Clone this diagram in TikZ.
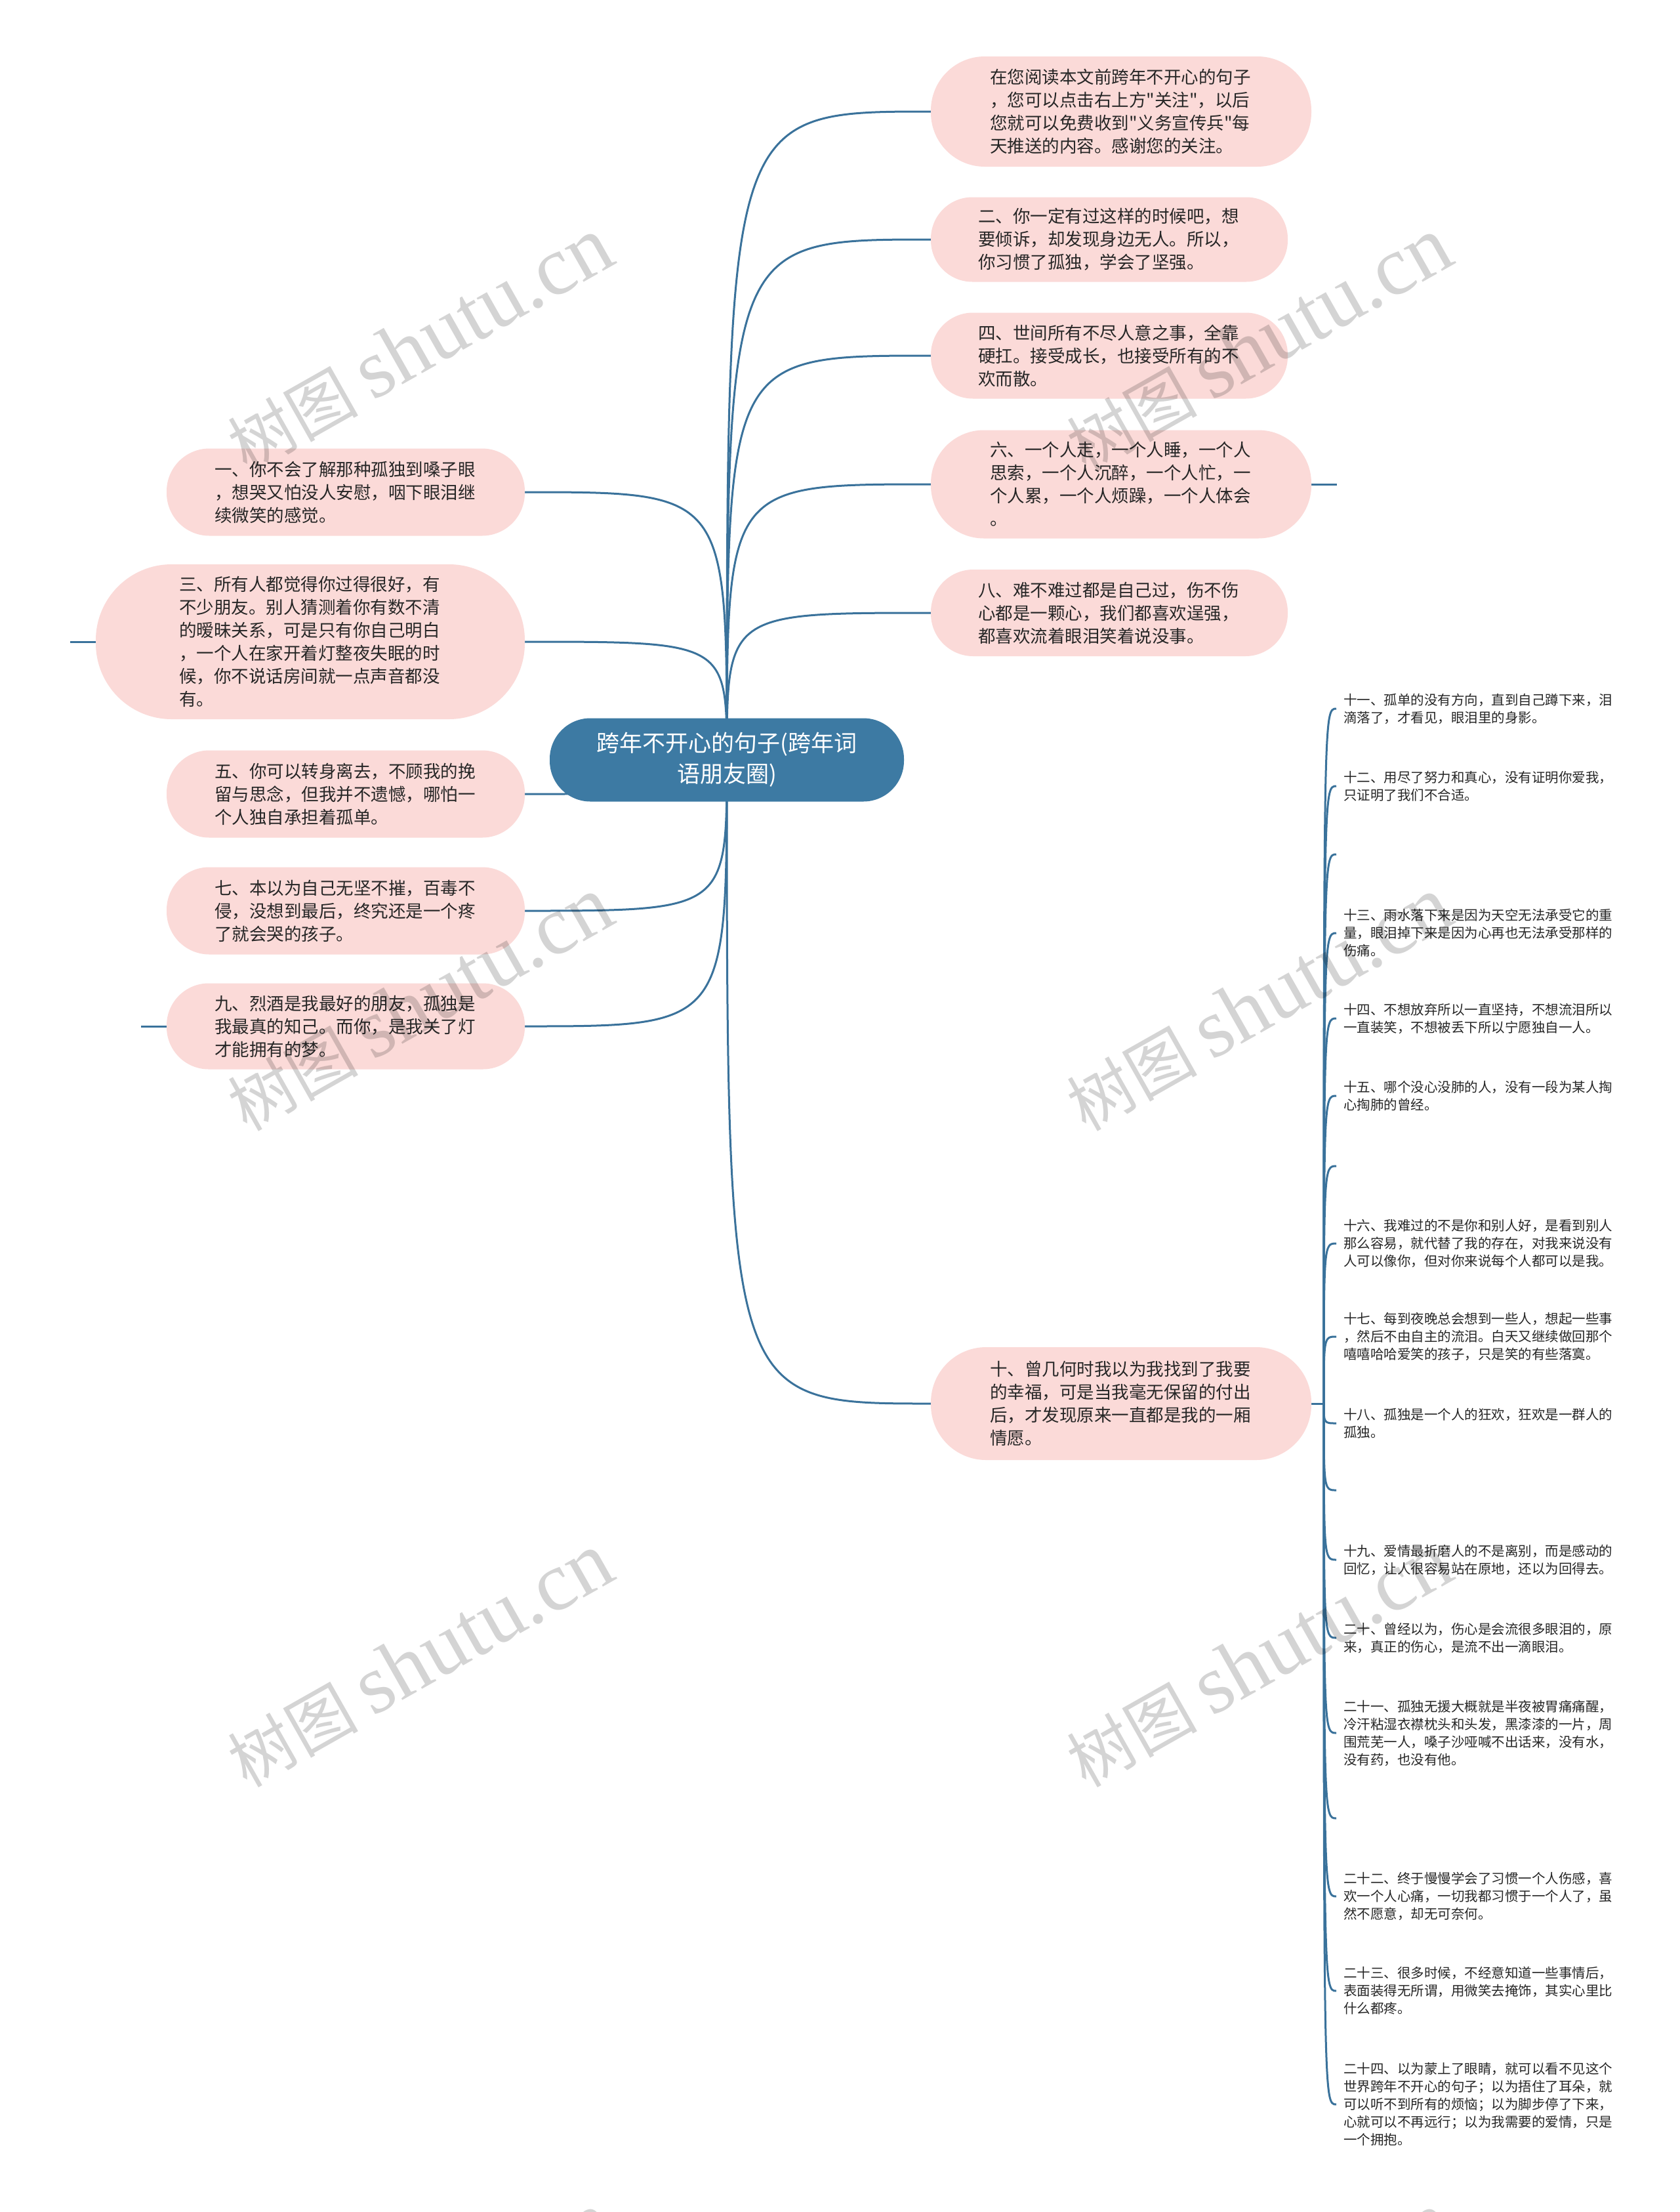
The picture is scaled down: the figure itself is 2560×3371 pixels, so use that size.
\documentclass[tikz,border=0pt]{standalone}
\usepackage{fontspec}
\setmainfont{Noto Sans CJK SC}[Ligatures=TeXOff]
\newfontfamily\wmlat{Liberation Serif}
\definecolor{pinkc}{HTML}{FBDAD8}
\definecolor{blu}{HTML}{3D7AA3}
\definecolor{edgec}{HTML}{3A729B}
\definecolor{txt}{HTML}{262626}
\pgfdeclarelayer{bg}
\pgfdeclarelayer{edges}
\pgfdeclarelayer{wm}
\pgfsetlayers{bg,edges,main,wm}
\begin{document}
\begin{tikzpicture}[x=1pt,y=-1pt,
  edge/.style={draw=edgec,line width=3pt},
  pk/.style 2 args={fill=pinkc,draw=none,minimum width=#1pt,minimum height=#2pt,
    rounded corners=#2pt*0.49,text width=400pt,align=left,inner sep=0pt,
    font=\fontsize{26.5}{35}\selectfont,text=txt},
  rootbox/.style={fill=blu,draw=none,text=white,align=center,minimum width=540pt,
    minimum height=127pt,rounded corners=62pt,inner sep=0pt,font=\fontsize{35}{47}\selectfont},
  item/.style={anchor=west,inner xsep=11pt,inner ysep=0pt,text width=430pt,align=left,
    font=\fontsize{20.5}{27}\selectfont,text=txt},
  wmark/.style={text=black,opacity=0.17,rotate=29.5,inner sep=0pt,font=\fontsize{99}{99}\selectfont}]
\useasboundingbox (0,0) rectangle (2560,3371);
\begin{pgfonlayer}{bg}
\fill[white] (0,0) rectangle (2560,3371);
\end{pgfonlayer}

% root
\node[rootbox] (root) at (1108,1158) {跨年不开心的句子(跨年词\\语朋友圈)};
\coordinate (rc) at (1108,1158);

% right main nodes
\node[pk={580}{168}] (R1) at (1709,170) {在您阅读本文前跨年不开心的句子\\，您可以点击右上方"关注"，以后\\您就可以免费收到"义务宣传兵"每\\天推送的内容。感谢您的关注。};
\node[pk={544}{129}] (R2) at (1691,365) {二、你一定有过这样的时候吧，想\\要倾诉，却发现身边无人。所以，\\你习惯了孤独，学会了坚强。};
\node[pk={544}{131}] (R3) at (1691,542) {四、世间所有不尽人意之事，全靠\\硬扛。接受成长，也接受所有的不\\欢而散。};
\node[pk={580}{165}] (R4) at (1709,738) {六、一个人走，一个人睡，一个人\\思索，一个人沉醉，一个人忙，一\\个人累，一个人烦躁，一个人体会\\。};
\node[pk={544}{132}] (R5) at (1691,934) {八、难不难过都是自己过，伤不伤\\心都是一颗心，我们都喜欢逞强，\\都喜欢流着眼泪笑着说没事。};
\node[pk={580}{172}] (R6) at (1709,2139) {十、曾几何时我以为我找到了我要\\的幸福，可是当我毫无保留的付出\\后，才发现原来一直都是我的一厢\\情愿。};

% left main nodes
\node[pk={546}{133}] (L1) at (527,750) {一、你不会了解那种孤独到嗓子眼\\，想哭又怕没人安慰，咽下眼泪继\\续微笑的感觉。};
\node[pk={654}{236}] (L2) at (473,978) {三、所有人都觉得你过得很好，有\\不少朋友。别人猜测着你有数不清\\的暧昧关系，可是只有你自己明白\\，一个人在家开着灯整夜失眠的时\\候，你不说话房间就一点声音都没\\有。};
\node[pk={546}{133}] (L3) at (527,1210) {五、你可以转身离去，不顾我的挽\\留与思念，但我并不遗憾，哪怕一\\个人独自承担着孤单。};
\node[pk={546}{133}] (L4) at (527,1388) {七、本以为自己无坚不摧，百毒不\\侵，没想到最后，终究还是一个疼\\了就会哭的孩子。};
\node[pk={546}{131}] (L5) at (527,1564) {九、烈酒是我最好的朋友，孤独是\\我最真的知己。而你，是我关了灯\\才能拥有的梦。};

% right list under R6
\coordinate (j) at (2018,2139);
\node[item] (T11) at (2037,1080) {十一、孤单的没有方向，直到自己蹲下来，泪\\滴落了，才看见，眼泪里的身影。};
\node[item] (T12) at (2037,1198) {十二、用尽了努力和真心，没有证明你爱我，\\只证明了我们不合适。};
\coordinate (E1) at (2037,1302);
\node[item] (T13) at (2037,1422) {十三、雨水落下来是因为天空无法承受它的重\\量，眼泪掉下来是因为心再也无法承受那样的\\伤痛。};
\node[item] (T14) at (2037,1552) {十四、不想放弃所以一直坚持，不想流泪所以\\一直装笑，不想被丢下所以宁愿独自一人。};
\node[item] (T15) at (2037,1670) {十五、哪个没心没肺的人，没有一段为某人掏\\心掏肺的曾经。};
\coordinate (E2) at (2037,1777);
\node[item] (T16) at (2037,1895) {十六、我难过的不是你和别人好，是看到别人\\那么容易，就代替了我的存在，对我来说没有\\人可以像你，但对你来说每个人都可以是我。};
\node[item] (T17) at (2037,2037) {十七、每到夜晚总会想到一些人，想起一些事\\，然后不由自主的流泪。白天又继续做回那个\\嘻嘻哈哈爱笑的孩子，只是笑的有些落寞。};
\node[item] (T18) at (2037,2169) {十八、孤独是一个人的狂欢，狂欢是一群人的\\孤独。};
\coordinate (E3) at (2037,2271);
\node[item] (T19) at (2037,2377) {十九、爱情最折磨人的不是离别，而是感动的\\回忆，让人很容易站在原地，还以为回得去。};
\node[item] (T20) at (2037,2496) {二十、曾经以为，伤心是会流很多眼泪的，原\\来，真正的伤心，是流不出一滴眼泪。};
\node[item] (T21) at (2037,2641) {二十一、孤独无援大概就是半夜被胃痛痛醒，\\冷汗粘湿衣襟枕头和头发，黑漆漆的一片，周\\围荒芜一人，嗓子沙哑喊不出话来，没有水，\\没有药，也没有他。};
\coordinate (E4) at (2037,2771);
\node[item] (T22) at (2037,2890) {二十二、终于慢慢学会了习惯一个人伤感，喜\\欢一个人心痛，一切我都习惯于一个人了，虽\\然不愿意，却无可奈何。};
\node[item] (T23) at (2037,3034) {二十三、很多时候，不经意知道一些事情后，\\表面装得无所谓，用微笑去掩饰，其实心里比\\什么都疼。};
\node[item] (T24) at (2037,3207) {二十四、以为蒙上了眼睛，就可以看不见这个\\世界跨年不开心的句子；以为捂住了耳朵，就\\可以听不到所有的烦恼；以为脚步停了下来，\\心就可以不再远行；以为我需要的爱情，只是\\一个拥抱。};

% stub ends
\coordinate (sR4) at (2038,738);
\coordinate (sL2) at (107,978);
\coordinate (sL5) at (215,1564);

\begin{pgfonlayer}{edges}
\foreach \n in {L1,L2,L3,L4,L5}
  \draw[edge] (rc) .. controls (rc |- \n.east) .. (\n.east);
\foreach \n in {R1,R2,R3,R4,R5,R6}
  \draw[edge] (rc) .. controls (rc |- \n.west) .. (\n.west);
\draw[edge] (R6.east) -- (j);
\foreach \n in {T11,T12,E1,T13,T14,T15,E2,T16,T17,T18,E3,T19,T20,T21,E4,T22,T23,T24}
  \draw[edge] (j) .. controls (j |- \n) .. (\n.west);
\draw[edge] (R4.east) -- (sR4);
\draw[edge] (L2.west) -- (sL2);
\draw[edge] (L5.west) -- (sL5);
\end{pgfonlayer}

\begin{pgfonlayer}{wm}
\foreach \wx/\wy [count=\k] in {640/525,1919/525,640/1530,1919/1530,640/2530,1919/2530,640/3535,1919/3535}
  \node[wmark] (wm\k) at (\wx,\wy) {树图 {\wmlat\fontsize{128}{128}\selectfont shutu.cn}};
\end{pgfonlayer}
\end{tikzpicture}
\end{document}
